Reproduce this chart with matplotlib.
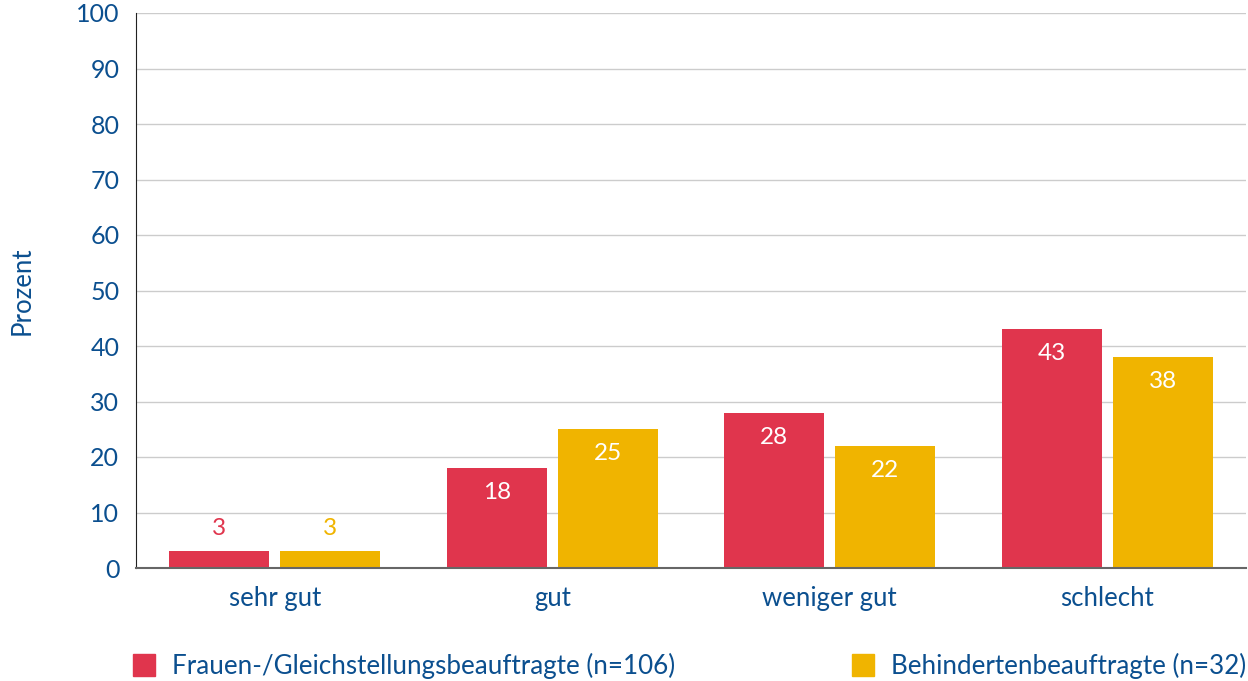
import numpy as np
import matplotlib.pyplot as plt

categories = ["sehr gut", "gut", "weniger gut", "schlecht"]
frauen = [3, 18, 28, 43]
behinderte = [3, 25, 22, 38]
series_labels = ["Frauen-/Gleichstellungsbeauftragte (n=106)", "Behindertenbeauftragte (n=32)"]

RED = "#e0354d"
YELLOW = "#f0b400"
BLUE = "#0b4f8f"

plt.rcParams["font.family"] = ["Lato", "DejaVu Sans"]

fig = plt.figure(figsize=(12.48, 6.81), dpi=100)
ax = fig.add_axes([136 / 1248, 1 - 568 / 681, 1110 / 1248, 555 / 681])

x = np.arange(len(categories))
w = 0.36
off = 0.2
b1 = ax.bar(x - off, frauen, w, color=RED, zorder=3)
b2 = ax.bar(x + off, behinderte, w, color=YELLOW, zorder=3)

for bars, vals, col in [(b1, frauen, RED), (b2, behinderte, YELLOW)]:
    for rect, v in zip(bars, vals):
        cx = rect.get_x() + rect.get_width() / 2
        if v < 8:
            ax.text(cx, v + 4.2, str(v), ha="center", va="center", color=col, fontsize=17.5)
        else:
            ax.text(cx, v - 4.4, str(v), ha="center", va="center", color="white", fontsize=17.5)

ax.set_xlim(-0.5, 3.5)
ax.set_ylim(0, 100)
ax.set_yticks(range(0, 101, 10))
ax.set_xticks(x)
ax.set_xticklabels(categories)
ax.tick_params(length=0, labelcolor=BLUE)
ax.tick_params(axis="y", pad=12, labelsize=18)
ax.tick_params(axis="x", pad=13, labelsize=18.5)
ax.grid(axis="y", color="#cccccc", linewidth=1, zorder=0)
for s in ["top", "right"]:
    ax.spines[s].set_visible(False)
ax.spines["left"].set_color("#222222")
ax.spines["bottom"].set_color("#666666")
ax.spines["bottom"].set_linewidth(1.5)
ax.spines["bottom"].set_zorder(4)

fig.text(22 / 1248, 1 - 291 / 681, "Prozent", rotation=90, ha="center", va="center",
         color=BLUE, fontsize=18.5)

# legend drawn manually to match placement
for px, col, lab in [(133, RED, series_labels[0]), (852, YELLOW, series_labels[1])]:
    fig.patches.append(plt.Rectangle((px / 1248, 1 - 676 / 681), 22 / 1248, 22 / 681,
                                     transform=fig.transFigure, color=col))
    fig.text((px + 39) / 1248, 1 - 666 / 681, lab, ha="left", va="center",
             color=BLUE, fontsize=18.7)

fig.savefig("out.png", dpi=100)
